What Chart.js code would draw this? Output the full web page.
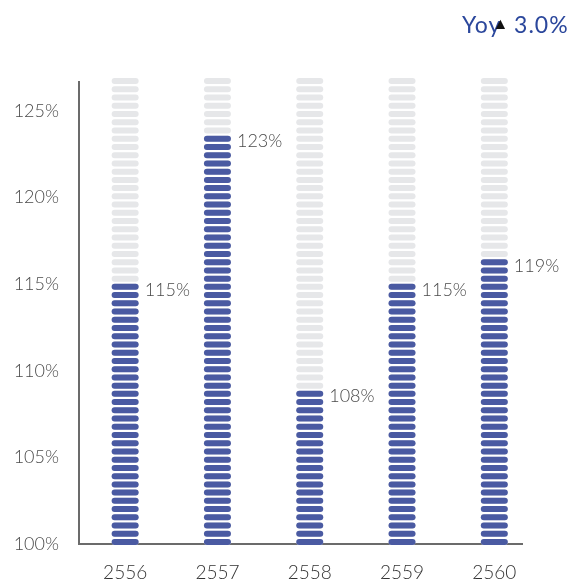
<!DOCTYPE html>
<html>
<head>
<meta charset="utf-8">
<script src="https://cdn.jsdelivr.net/npm/chart.js@4"></script>
<style>
  body { margin: 0; background: #fff; }
  #wrap { position: relative; width: 574px; height: 581px; }
  #yoy { position: absolute; left: 462px; top: 10px; font-family: Lato, sans-serif; font-size: 23px; letter-spacing: 1px; color: #2b479c; white-space: nowrap; }
  #yoy .arr { color: #111; font-size: 16px; margin-left: -9px; margin-right: -2px; position: relative; top: -4px; }
</style>
</head>
<body>
<div id="wrap">
  <canvas id="chart" width="574" height="581"></canvas>
  <div id="yoy">Yoy<span class="arr">▲</span> 3.0%</div>
</div>
<script>
const years = ['2556', '2557', '2558', '2559', '2560'];
const barValues = [115.0, 123.6, 108.9, 115.0, 116.4];
const barLabels = ['115%', '123%', '108%', '115%', '119%'];
const baseValue = 100;
const trackValue = 126.9;
const yTicks = [100, 105, 110, 115, 120, 125];

const pillPitch = 8.23, pillH = 6;

// each bar is painted as a stack of rounded pills
const pills = {
  id: 'pills',
  afterDatasetsDraw(chart) {
    const ctx = chart.ctx;
    chart.data.datasets.forEach((ds, di) => {
      const meta = chart.getDatasetMeta(di);
      meta.data.forEach((bar, i) => {
        const p = bar.getProps(['x', 'y', 'base', 'width'], true);
        const n = Math.round((p.base - p.y) / pillPitch);
        ctx.save();
        ctx.fillStyle = ds.pillColor;
        for (let k = 0; k < n; k++) {
          const top = p.base + 1 - k * pillPitch - pillH;
          ctx.beginPath();
          ctx.roundRect(p.x - p.width / 2, top, p.width, pillH, pillH / 2);
          ctx.fill();
        }
        if (ds.labels) {
          ctx.fillStyle = '#4a4a4a';
          ctx.font = '300 18px Lato, sans-serif';
          ctx.textAlign = 'left';
          ctx.textBaseline = 'middle';
          ctx.fillText(ds.labels[i], p.x + p.width / 2 + 6, p.y + 6);
        }
        ctx.restore();
      });
    });
  }
};

new Chart(document.getElementById('chart'), {
  type: 'bar',
  data: {
    datasets: [
      {
        data: years.map((y, i) => ({ x: i, y: [baseValue, trackValue] })),
        backgroundColor: 'rgba(0,0,0,0)',
        pillColor: '#e6e7e9',
        barThickness: 27,
        grouped: false,
        order: 2
      },
      {
        data: barValues.map((v, i) => ({ x: i, y: [baseValue, v] })),
        backgroundColor: 'rgba(0,0,0,0)',
        pillColor: '#4a5aa2',
        labels: barLabels,
        barThickness: 27,
        grouped: false,
        order: 1
      }
    ]
  },
  options: {
    responsive: false,
    animation: false,
    layout: { padding: { top: 82, right: 52, left: 0, bottom: 0 } },
    plugins: { legend: { display: false }, tooltip: { enabled: false } },
    scales: {
      x: {
        type: 'linear',
        offset: false,
        min: -0.5,
        max: 4.3,
        afterBuildTicks: (axis) => { axis.ticks = years.map((y, i) => ({ value: i })); },
        afterFit: (axis) => { axis.height = 37; },
        grid: { display: false, drawTicks: false },
        border: { color: '#6b6b6b', width: 2 },
        ticks: {
          padding: 17,
          color: '#333',
          font: { family: 'Lato', size: 19, weight: '300' },
          callback: (v) => years[v]
        }
      },
      y: {
        min: 100,
        max: 126.67,
        afterBuildTicks: (axis) => { axis.ticks = yTicks.map(v => ({ value: v })); },
        afterFit: (axis) => { axis.width = 79; },
        grid: { display: false, drawTicks: false },
        border: { color: '#6b6b6b', width: 2 },
        ticks: {
          padding: 20,
          color: '#4a4a4a',
          font: { family: 'Lato', size: 18, weight: '300' },
          callback: (v) => v + '%'
        }
      }
    }
  },
  plugins: [pills]
});
</script>
</body>
</html>
